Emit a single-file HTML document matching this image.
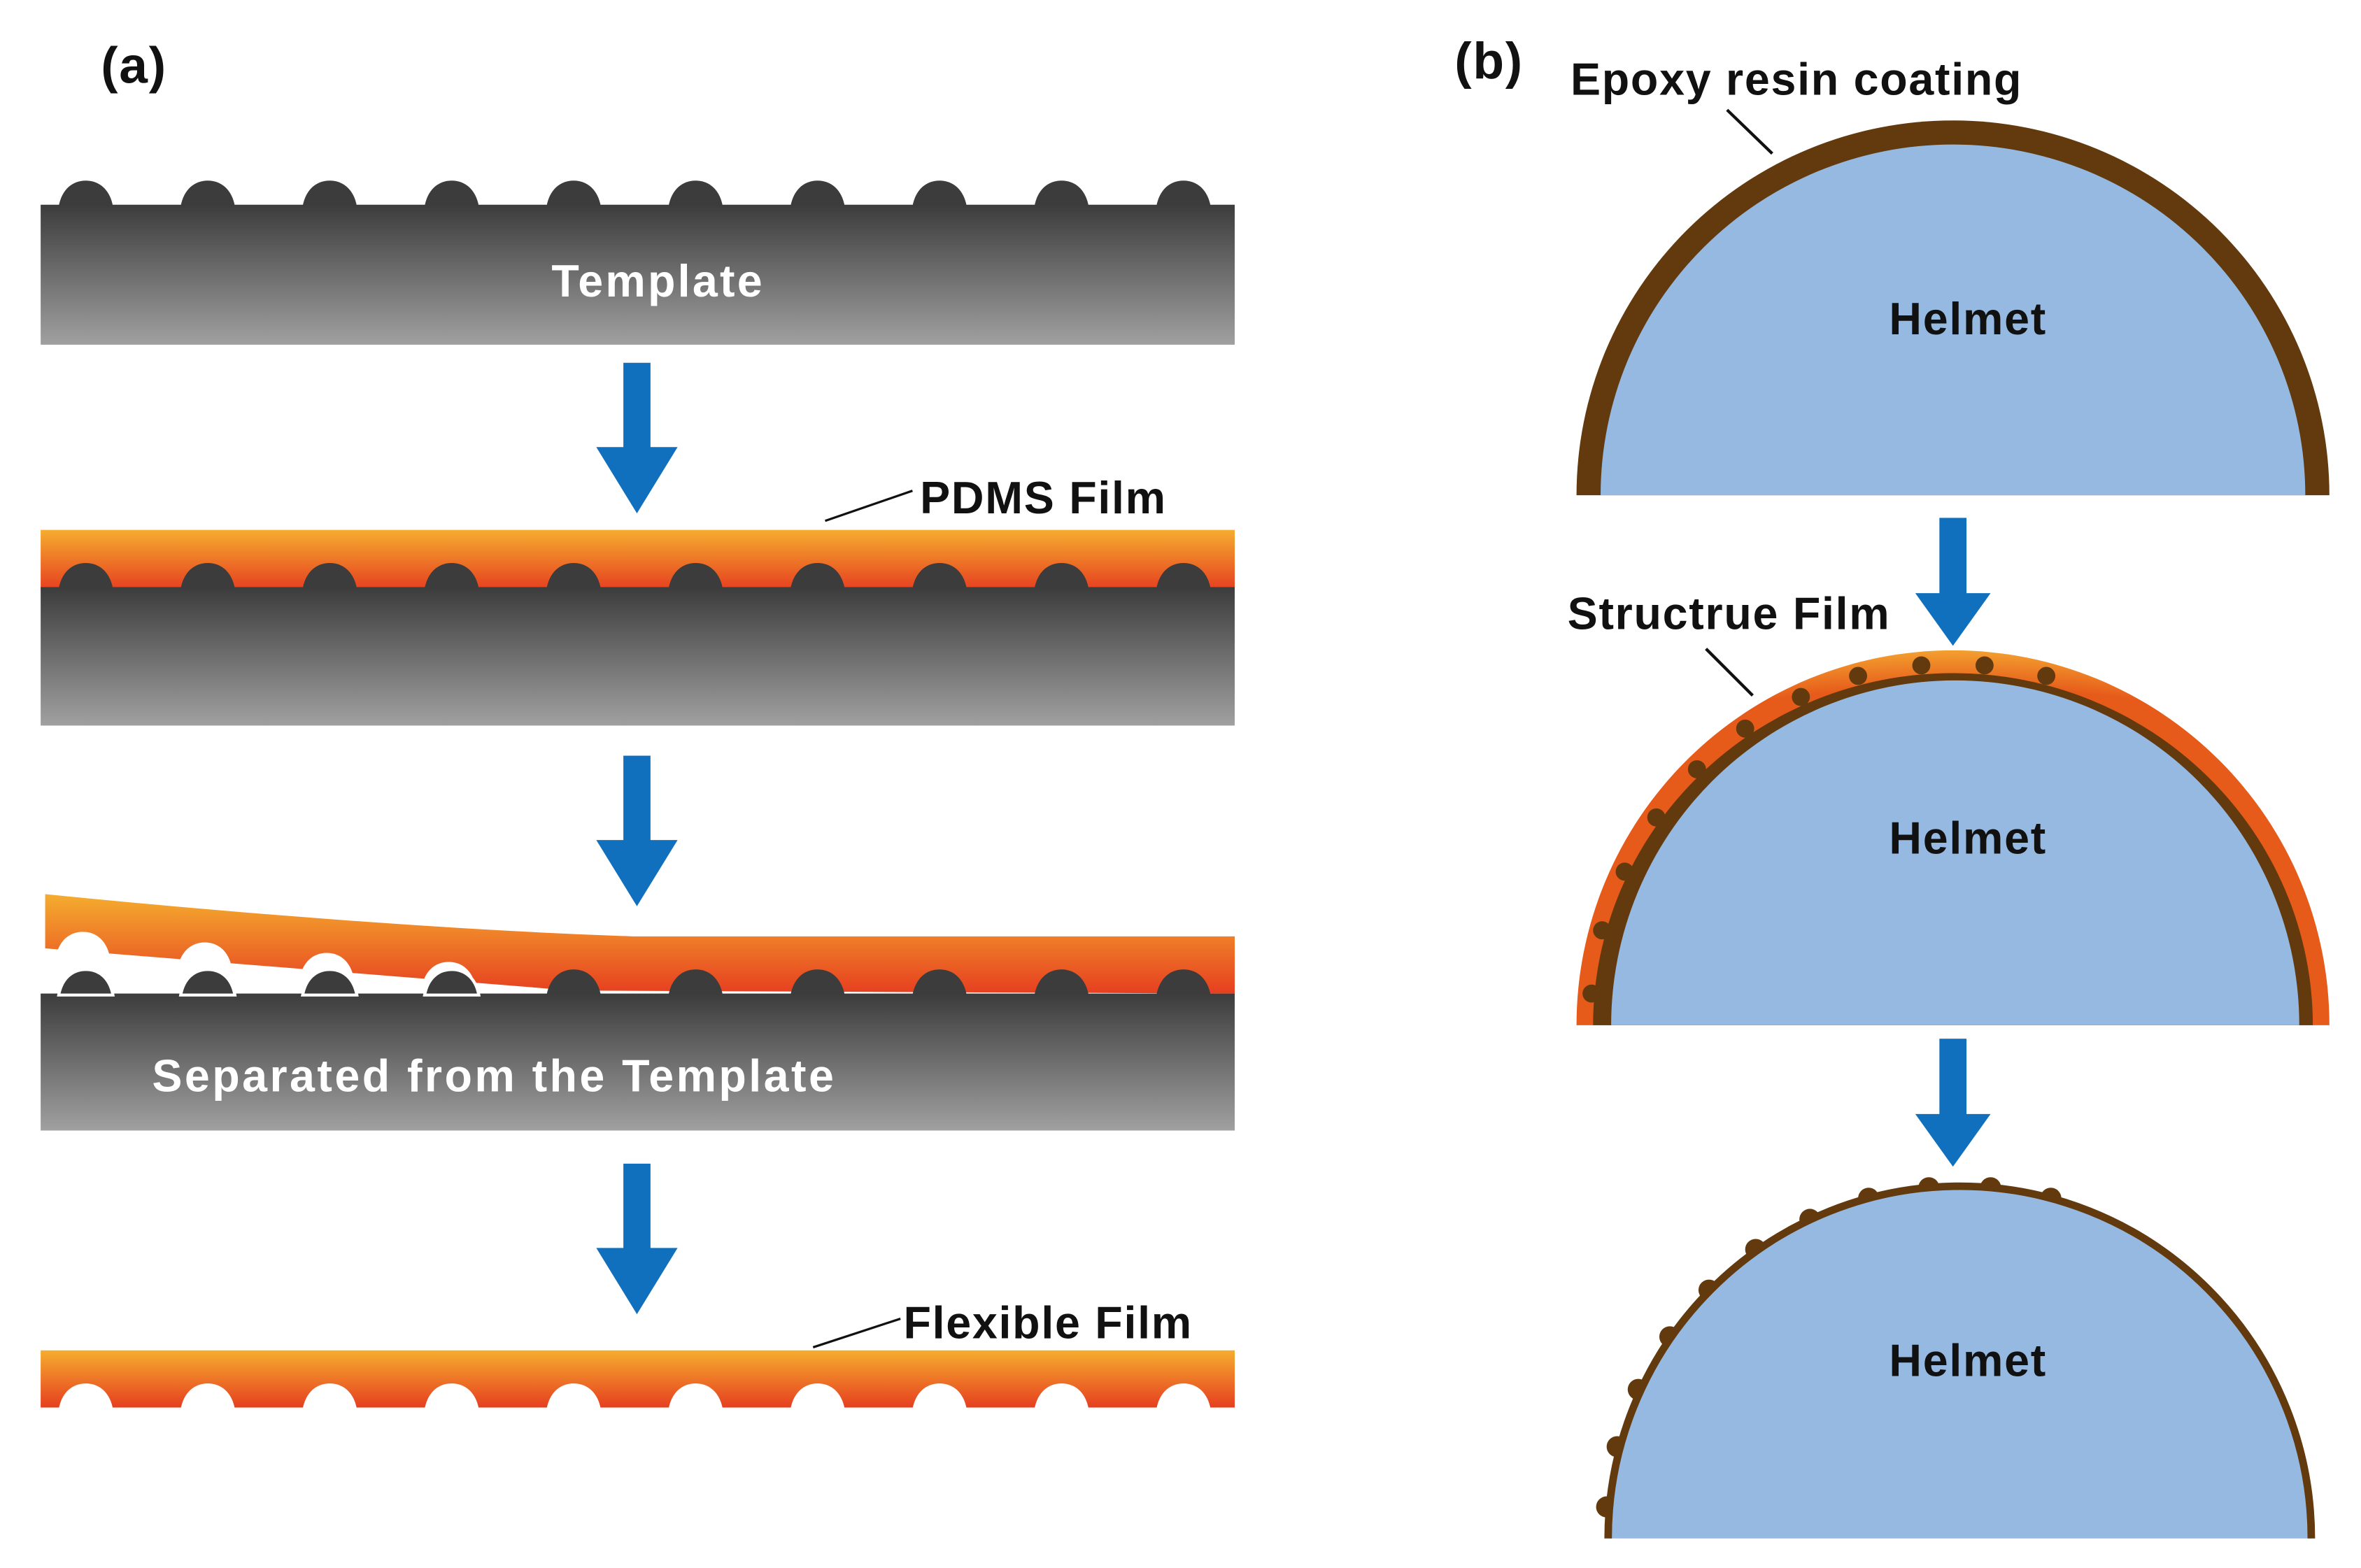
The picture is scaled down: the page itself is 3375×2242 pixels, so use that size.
<!DOCTYPE html>
<html><head><meta charset="utf-8"><style>
html,body{margin:0;padding:0;background:#fff}
svg{display:block}
text{font-family:"Liberation Sans",sans-serif;font-weight:bold;letter-spacing:0.8px}
</style></head><body>
<svg width="3375" height="2242" viewBox="0 0 1568 1041.6" preserveAspectRatio="none" xmlns="http://www.w3.org/2000/svg">
<defs>
<linearGradient id="g1" x1="0" y1="0" x2="0" y2="1"><stop offset="0" stop-color="#3c3c3c"/><stop offset="1" stop-color="#a0a0a0"/></linearGradient>
<linearGradient id="og" x1="0" y1="0" x2="0" y2="1"><stop offset="0" stop-color="#f5ad2f"/><stop offset="1" stop-color="#e63f20"/></linearGradient>
<radialGradient id="rg" cx="0.5" cy="1" r="1" gradientUnits="objectBoundingBox"><stop offset="0.9" stop-color="#e65a1a"/><stop offset="1" stop-color="#f3a030"/></radialGradient>
<path id="bump" d="M-18,0 C-16,-11 -9,-17 0,-17 C9,-17 16,-11 18,0 Z"/>
<g id="arrow"><rect x="-9" y="0" width="18" height="58" fill="#1170bd"/><path d="M-27,56 L27,56 L0,100 Z" fill="#1170bd"/></g>
<g id="arrowR"><rect x="-9" y="0" width="18" height="52" fill="#1170bd"/><path d="M-25,50 L25,50 L0,85 Z" fill="#1170bd"/></g>
</defs>

<text x="67" y="55" font-size="34" fill="#111">(a)</text>
<text x="966" y="52" font-size="34" fill="#111">(b)</text>

<!-- Template -->
<rect x="27" y="136" width="793" height="93" fill="url(#g1)"/>
<g fill="#3c3c3c">
<use href="#bump" x="57" y="137"/><use href="#bump" x="138" y="137"/><use href="#bump" x="219" y="137"/><use href="#bump" x="300" y="137"/><use href="#bump" x="381" y="137"/><use href="#bump" x="462" y="137"/><use href="#bump" x="543" y="137"/><use href="#bump" x="624" y="137"/><use href="#bump" x="705" y="137"/><use href="#bump" x="786" y="137"/>
</g>
<text x="437" y="197" font-size="30" fill="#fff" text-anchor="middle" style="letter-spacing:1.5px">Template</text>

<use href="#arrow" x="423" y="241"/>

<!-- PDMS -->
<line x1="548" y1="346" x2="606" y2="326" stroke="#111" stroke-width="1.5"/>
<text x="611" y="341" font-size="30" fill="#111">PDMS Film</text>
<rect x="27" y="352" width="793" height="40" fill="url(#og)"/>
<rect x="27" y="390" width="793" height="92" fill="url(#g1)"/>
<g fill="#3c3c3c">
<use href="#bump" x="57" y="391"/><use href="#bump" x="138" y="391"/><use href="#bump" x="219" y="391"/><use href="#bump" x="300" y="391"/><use href="#bump" x="381" y="391"/><use href="#bump" x="462" y="391"/><use href="#bump" x="543" y="391"/><use href="#bump" x="624" y="391"/><use href="#bump" x="705" y="391"/><use href="#bump" x="786" y="391"/>
</g>

<use href="#arrow" x="423" y="502"/>

<!-- Separated -->
<path d="M30,594 C150,606 300,618 420,622 L820,622 L820,660 L380,658 L30,630 Z" fill="url(#og)"/>
<g fill="#fff">
<use href="#bump" x="55" y="636"/><use href="#bump" x="136" y="643"/><use href="#bump" x="217" y="650"/><use href="#bump" x="298" y="656"/>
</g>
<rect x="27" y="660" width="793" height="91" fill="url(#g1)"/>
<g fill="#3c3c3c" stroke="#fff" stroke-width="2">
<use href="#bump" x="57" y="661"/><use href="#bump" x="138" y="661"/><use href="#bump" x="219" y="661"/><use href="#bump" x="300" y="661"/>
</g>
<g fill="#3c3c3c">
<use href="#bump" x="381" y="661"/><use href="#bump" x="462" y="661"/><use href="#bump" x="543" y="661"/><use href="#bump" x="624" y="661"/><use href="#bump" x="705" y="661"/><use href="#bump" x="786" y="661"/>
</g>
<text x="101" y="725" font-size="30" fill="#fff" style="letter-spacing:1.6px">Separated from the Template</text>

<use href="#arrow" x="423" y="773"/>

<!-- Flexible -->
<line x1="540" y1="895" x2="598" y2="876" stroke="#111" stroke-width="1.5"/>
<text x="600" y="889" font-size="30" fill="#111">Flexible Film</text>
<rect x="27" y="897" width="793" height="38" fill="url(#og)"/>
<g fill="#fff">
<use href="#bump" x="57" y="936"/><use href="#bump" x="138" y="936"/><use href="#bump" x="219" y="936"/><use href="#bump" x="300" y="936"/><use href="#bump" x="381" y="936"/><use href="#bump" x="462" y="936"/><use href="#bump" x="543" y="936"/><use href="#bump" x="624" y="936"/><use href="#bump" x="705" y="936"/><use href="#bump" x="786" y="936"/>
</g>

<!-- Helmet 1 -->
<text x="1043" y="63" font-size="30" fill="#111">Epoxy resin coating</text>
<line x1="1147" y1="73" x2="1177" y2="102" stroke="#111" stroke-width="2"/>
<path d="M1047,329 A250,249 0 0 1 1547,329 Z" fill="#623a0e"/>
<path d="M1063,329 A234,233 0 0 1 1531,329 Z" fill="#95b9e1"/>
<text x="1307" y="222" font-size="30" fill="#111" text-anchor="middle">Helmet</text>

<use href="#arrowR" x="1297" y="344"/>

<!-- Helmet 2 -->
<text x="1041" y="418" font-size="30" fill="#111">Structrue Film</text>
<line x1="1133" y1="431" x2="1164" y2="462" stroke="#111" stroke-width="2"/>
<path d="M1047,681 A250,249 0 0 1 1547,681 Z" fill="url(#rg)"/>
<g fill="#623a0e">
<circle cx="1057" cy="660" r="6"/><circle cx="1064" cy="618" r="6"/><circle cx="1079" cy="579" r="6"/><circle cx="1100" cy="543" r="6"/><circle cx="1127" cy="511" r="6"/><circle cx="1159" cy="484" r="6"/><circle cx="1196" cy="463" r="6"/><circle cx="1234" cy="449" r="6"/><circle cx="1276" cy="442" r="6"/><circle cx="1318" cy="442" r="6"/><circle cx="1359" cy="449" r="6"/>
</g>
<path d="M1058,681 A239,234 0 0 1 1536,681 Z" fill="#623a0e"/>
<path d="M1070,681 A228.5,229 0 0 1 1527,681 Z" fill="#95b9e1"/>
<text x="1307" y="567" font-size="30" fill="#111" text-anchor="middle">Helmet</text>

<use href="#arrowR" x="1297" y="690"/>

<!-- Helmet 3 -->
<g fill="#623a0e">
<circle cx="1067" cy="1001" r="7"/><circle cx="1074" cy="961" r="7"/><circle cx="1088" cy="923" r="7"/><circle cx="1109" cy="888" r="7"/><circle cx="1135" cy="857" r="7"/><circle cx="1166" cy="830" r="7"/><circle cx="1202" cy="810" r="7"/><circle cx="1241" cy="796" r="7"/><circle cx="1281" cy="789" r="7"/><circle cx="1322" cy="789" r="7"/><circle cx="1362" cy="796" r="7"/>
</g>
<path d="M1068,1022 A233.5,234 0 0 1 1535,1022 Z" fill="#95b9e1"/>
<path d="M1068,1022 A233.5,234 0 0 1 1535,1022" fill="none" stroke="#623a0e" stroke-width="5"/>
<text x="1307" y="914" font-size="30" fill="#111" text-anchor="middle">Helmet</text>
</svg>
</body></html>
